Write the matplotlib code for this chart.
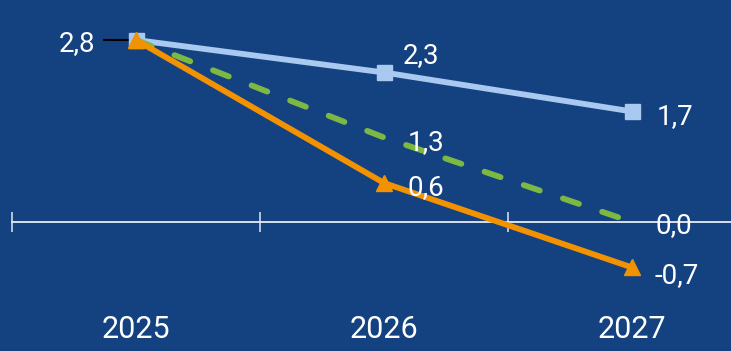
import matplotlib
matplotlib.use("Agg")
import matplotlib.pyplot as plt

# Forecast series by year
years = ["2025", "2026", "2027"]
series_a = [2.8, 2.3, 1.7]   # light blue, squares
series_b = [2.8, 1.3, 0.0]   # green, dashed
series_c = [2.8, 0.6, -0.7]  # orange, triangles

BG = "#144280"
C_A = "#A9C9F0"
C_B = "#7DB843"
C_C = "#F39200"

plt.rcParams["font.family"] = ["Roboto", "DejaVu Sans"]

fig = plt.figure(figsize=(7.31, 3.51), dpi=100, facecolor=BG)
ax = fig.add_axes([0, 0, 1, 1], facecolor=BG)

x = list(range(len(years)))
lw = 4.2
ax.plot(x, series_a, color=C_A, lw=lw, marker="s", ms=10.8, zorder=4)
ax.plot(x, series_b, color=C_B, lw=lw, dashes=(2.9, 4.2),
        dash_capstyle="round", zorder=5)
ax.plot(x, series_c, color=C_C, lw=lw, marker="^", ms=11, zorder=6)

ax.set_xlim(-0.548, 2.399)
ax.set_ylim(-1.985, 3.415)

# Axis line through zero with category separators
for side in ("top", "right", "left"):
    ax.spines[side].set_visible(False)
ax.spines["bottom"].set_position(("data", 0))
ax.spines["bottom"].set_color("#E6ECF5")
ax.spines["bottom"].set_linewidth(1.3)
ax.spines["bottom"].set_bounds(-0.5, 2.399)
ax.set_yticks([])
ax.set_xticks(x)
ax.set_xticklabels(years, color="white", fontsize=22)
ax.tick_params(axis="x", which="major", length=0, pad=67)
ax.set_xticks([-0.5, 0.5, 1.5], minor=True)
ax.tick_params(axis="x", which="minor", length=14.5, width=1.2,
               direction="inout", color="#D0DAE8")

lbl = dict(color="white", fontsize=20, textcoords="offset pixels",
           va="center_baseline", zorder=7)

def fmt(v):
    return f"{v:.1f}".replace(".", ",")

# First point label with a horizontal leader line
ax.annotate("", xy=(0, series_a[0]), xytext=(-32, 0),
            textcoords="offset pixels",
            arrowprops=dict(arrowstyle="-", color="black", lw=1.5,
                            shrinkA=0, shrinkB=0), zorder=3)
ax.annotate(fmt(series_a[0]), xy=(0, series_a[0]), xytext=(-41, -1),
            ha="right", **lbl)

ax.annotate(fmt(series_a[1]), xy=(1, series_a[1]), xytext=(19, 20), ha="left", **lbl)
ax.annotate(fmt(series_a[2]), xy=(2, series_a[2]), xytext=(25, -2), ha="left", **lbl)
ax.annotate(fmt(series_b[1]), xy=(1, series_b[1]), xytext=(24, -2), ha="left", **lbl)
ax.annotate(fmt(series_b[2]), xy=(2, series_b[2]), xytext=(23, -1), ha="left", **lbl)
ax.annotate(fmt(series_c[1]), xy=(1, series_c[1]), xytext=(24, -2), ha="left", **lbl)
ax.annotate(fmt(series_c[2]), xy=(2, series_c[2]), xytext=(22, -5), ha="left", **lbl)

fig.savefig("out.png", dpi=100, facecolor=BG)
